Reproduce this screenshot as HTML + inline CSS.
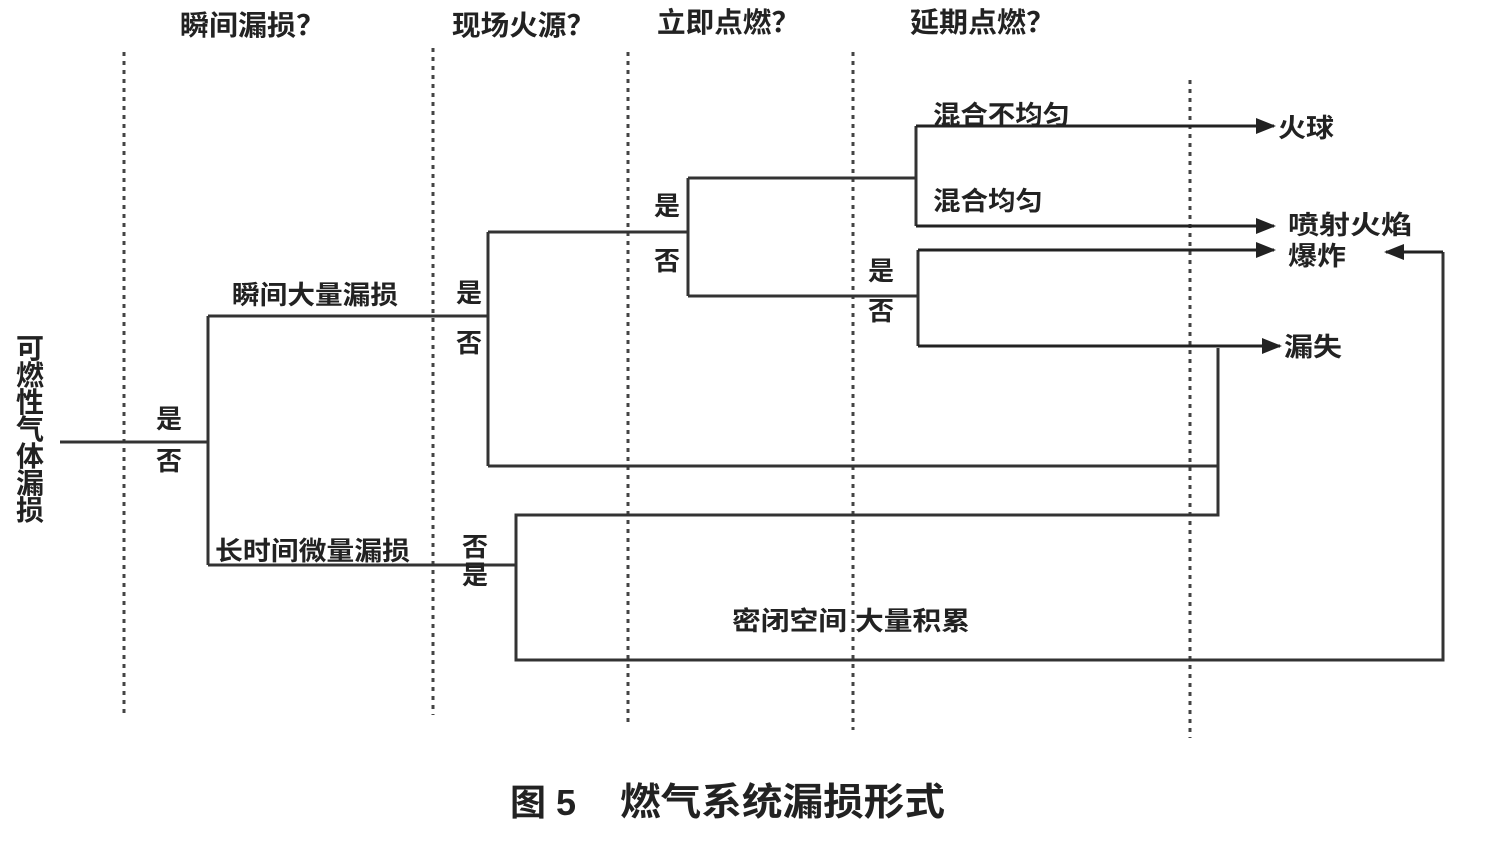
<!DOCTYPE html>
<html><head><meta charset="utf-8"><style>
html,body{margin:0;padding:0;background:#fff;}
svg text{font-family:"Liberation Sans","Noto Sans CJK SC",sans-serif;font-weight:bold;fill:#222;}
</style></head><body>
<svg width="1500" height="844" viewBox="0 0 1500 844" xmlns="http://www.w3.org/2000/svg">
<defs>
<marker id="b" viewBox="0 0 10 8" markerWidth="28" markerHeight="16" refX="9" refY="4" orient="auto" markerUnits="userSpaceOnUse"><path d="M0,0 L10,4 L0,8 Z" fill="#222"/></marker></defs>
<g stroke="#444" stroke-width="3" stroke-dasharray="4 5">
<line x1="124" y1="52" x2="124" y2="715"/>
<line x1="433" y1="48" x2="433" y2="715"/>
<line x1="628" y1="52" x2="628" y2="722"/>
<line x1="853" y1="52" x2="853" y2="730"/>
<line x1="1190" y1="80" x2="1190" y2="738"/>
</g>
<g stroke="#333" stroke-width="3" fill="none">
<path d="M60,442 H208 M208,316 V565 M208,316 H488 M488,232 V466 M488,232 H688 M688,178 V296 M688,178 H916 M916,126 V226 M688,296 H918 M918,250 V346"/>
<path d="M488,466 H1218 V515 H516 V660 H1443 V252"/>
<path d="M1218,348 V466"/>
<path d="M208,565 H516"/>
</g>
<g stroke="#222" stroke-width="3" marker-end="url(#b)">
<line x1="916" y1="126" x2="1274" y2="126"/>
<line x1="916" y1="226" x2="1274" y2="226"/>
<line x1="918" y1="250" x2="1274" y2="250"/>
<line x1="918" y1="346" x2="1280" y2="346"/>
<line x1="1443" y1="252" x2="1386" y2="252"/>
</g>
<g font-size="28">
<text x="180" y="35" textLength="145" lengthAdjust="spacingAndGlyphs">瞬间漏损？</text>
<text x="452" y="35" textLength="143" lengthAdjust="spacingAndGlyphs">现场火源？</text>
<text x="657" y="32" textLength="143" lengthAdjust="spacingAndGlyphs">立即点燃？</text>
<text x="910" y="32" textLength="145" lengthAdjust="spacingAndGlyphs">延期点燃？</text>
</g>
<g font-size="26">
<text x="933" y="124" textLength="137" lengthAdjust="spacingAndGlyphs">混合不均匀</text>
<text x="933" y="210" textLength="110" lengthAdjust="spacingAndGlyphs">混合均匀</text>
<text x="1278" y="137" textLength="56" lengthAdjust="spacingAndGlyphs">火球</text>
<text x="1288" y="234" textLength="124" lengthAdjust="spacingAndGlyphs">喷射火焰</text>
<text x="1288" y="265" textLength="58" lengthAdjust="spacingAndGlyphs">爆炸</text>
<text x="1284" y="356" textLength="58" lengthAdjust="spacingAndGlyphs">漏失</text>
<text x="232" y="304" textLength="166" lengthAdjust="spacingAndGlyphs">瞬间大量漏损</text>
<text x="215" y="560" textLength="195" lengthAdjust="spacingAndGlyphs">长时间微量漏损</text>
<text x="732" y="630" textLength="238" lengthAdjust="spacingAndGlyphs">密闭空间 大量积累</text>
<text x="156" y="428">是</text><text x="156" y="470">否</text>
<text x="456" y="302">是</text><text x="456" y="352">否</text>
<text x="654" y="215">是</text><text x="654" y="270">否</text>
<text x="868" y="280">是</text><text x="868" y="320">否</text>
<text x="462" y="556">否</text><text x="462" y="584">是</text>
</g>
<g font-size="28">
<text x="16" y="358">可</text><text x="16" y="385">燃</text><text x="16" y="412">性</text><text x="16" y="439">气</text><text x="16" y="466">体</text><text x="16" y="493">漏</text><text x="16" y="520">损</text>
</g>
<text x="510" y="815" font-size="36">图 5</text>
<text x="620" y="815" font-size="38" textLength="325" lengthAdjust="spacingAndGlyphs">燃气系统漏损形式</text>
</svg>
</body></html>
